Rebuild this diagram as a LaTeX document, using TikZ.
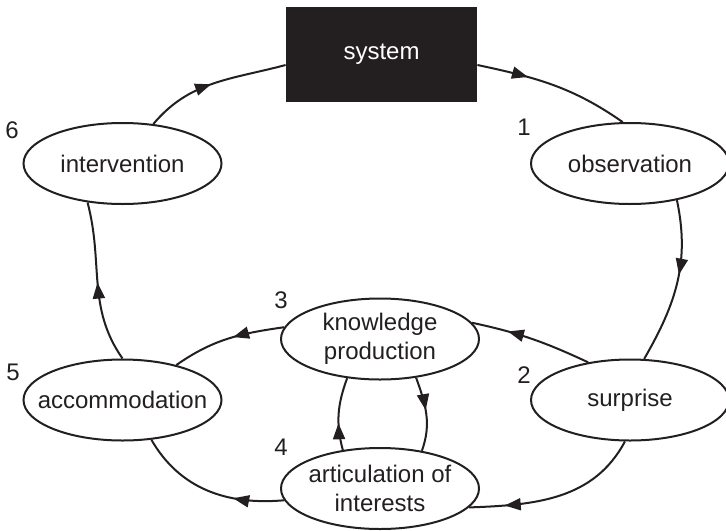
\documentclass[tikz,border=0pt]{standalone}
\usepackage{fontspec}
\setmainfont{Liberation Sans}
\usetikzlibrary{shapes.geometric,decorations.markings,arrows.meta}
\definecolor{ink}{HTML}{231F20}

\begin{document}
\begin{tikzpicture}[x=0.5pt,y=-0.5pt,
    stage/.style={ellipse, draw=ink, line width=1pt, text=ink, align=center,
        minimum width=99pt, minimum height=40.5pt,
        inner xsep=-10pt, inner ysep=0pt, font=\fontsize{12}{14.5}\selectfont},
    num/.style={text=ink, font=\fontsize{12}{14.5}\selectfont},
    flow/.style={draw=ink, line width=1pt, postaction={decorate},
        decoration={markings, mark=at position #1 with {\arrow{Triangle[length=8pt,width=6pt]}}}}]
                \useasboundingbox (0,0) rectangle (726,530);
                % the system box
                \node[fill=ink, text=white, minimum width=95.5pt, minimum height=47.5pt,
                    font=\fontsize{12}{14.5}\selectfont] at (381.5,54.5) (sys) {system};
                % the stages of the cycle
                \node[stage] at (630,163.5) (obs) {observation};
                \node[stage] at (630,400) (sur) {surprise};
                \node[stage] at (380,339) (kp) {knowledge\\production};
                \node[stage] at (380,488.5) (art) {articulation of\\interests};
                \node[stage] at (122.5,400) (acc) {accommodation};
                \node[stage] at (122.5,163.5) (int) {intervention};
                % step numbers
                \node[num] at (524,127) (n1) {1};
                \node[num] at (524,375) (n2) {2};
                \node[num] at (281,300) (n3) {3};
                \node[num] at (281,447) (n4) {4};
                \node[num] at (13,372) (n5) {5};
                \node[num] at (12,130) (n6) {6};
                % connectors
                \draw[flow=0.33] ([yshift=-5.25pt]sys.east) to[out=-12, in=145] (obs.100);
                \draw[flow=0.45] (obs.-38) to[out=-78, in=60] (sur.71);
                \draw[flow=0.7] (sur.138) to[out=155, in=-12] (kp.10);
                \draw[flow=0.45] (kp.173) to[out=188, in=35] (acc.33);
                \draw[flow=0.5] (acc.north) to[out=125, in=-75] (int.-132);
                \draw[flow=0.48] (int.52) to[out=50, in=195] ([yshift=-5.25pt]sys.west);
                \draw[flow=0.8] (sur.-97) to[out=-118, in=2] (art.-12);
                \draw[flow=0.33] (art.187) to[out=185, in=-60] (acc.-54);
                \draw[flow=0.37] (art.134.5) to[out=105, in=-110] (kp.-130.6);
                \draw[flow=0.45] (kp.-47.5) to[out=-70, in=70] (art.42.7);
            \end{tikzpicture}
\end{document}
